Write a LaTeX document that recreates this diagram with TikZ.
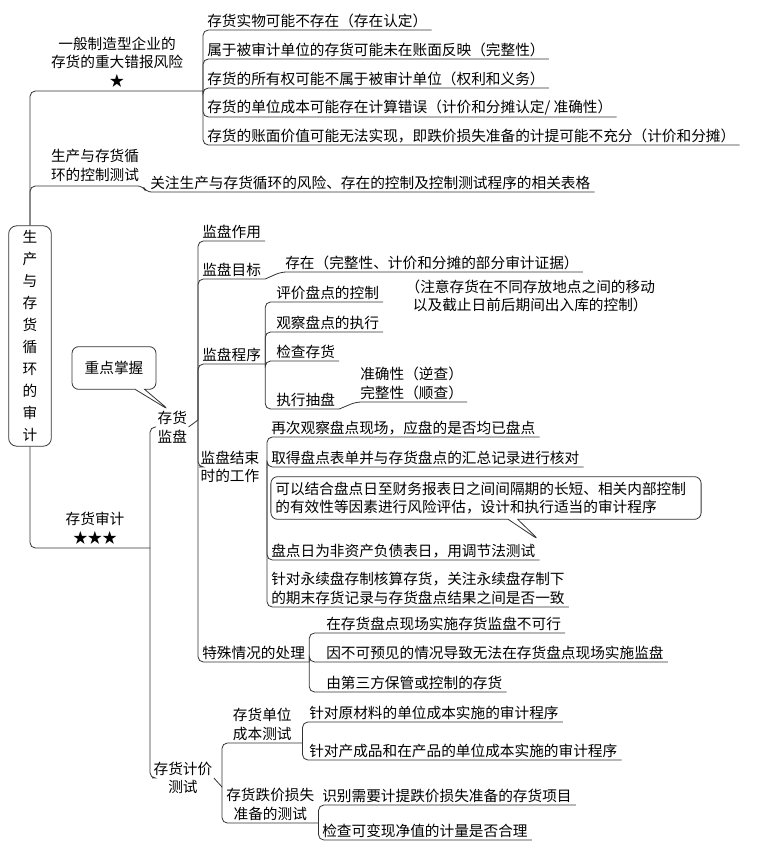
\documentclass[tikz,border=0pt]{standalone}
\usepackage{fontspec}
\setmainfont{Noto Sans CJK SC}
\usetikzlibrary{shapes.callouts}
\tikzset{
  br/.style={draw=black!80,line width=0.6pt,rounded corners=4pt},
  leaf/.style={anchor=south west,inner xsep=3pt,inner ysep=1.5pt,align=left,
    font=\fontsize{11}{14}\selectfont},
  lab/.style={inner sep=1pt,align=center,font=\fontsize{11}{14}\selectfont},
  note/.style={rectangle callout,draw=black!80,line width=0.6pt,rounded corners=5pt,
    fill=white,font=\fontsize{11}{14}\selectfont,align=left}
}
\begin{document}
\begin{tikzpicture}[x=0.75pt,y=-0.75pt]
  \useasboundingbox (0,0) rectangle (757,855);
  % root
  \node[draw=black!80,line width=0.6pt,rounded corners=6pt,minimum width=32pt,
    minimum height=163pt,align=center,font=\fontsize{11}{16.5}\selectfont]
    (root) at (30,336) {生\\产\\与\\存\\货\\循\\环\\的\\审\\计};

  % major misstatement risks
  \coordinate (r1) at (203,91);
  \node[lab,anchor=south] (l1) at (117,89) {一般制造型企业的\\存货的重大错报风险\\★};
  \node[leaf] (a1) at (203,30) {存货实物可能不存在（存在认定）};
  \node[leaf] (a2) at (203,59) {属于被审计单位的存货可能未在账面反映（完整性）};
  \node[leaf] (a3) at (203,88) {存货的所有权可能不属于被审计单位（权利和义务）};
  \node[leaf] (a4) at (203,117) {存货的单位成本可能存在计算错误（计价和分摊认定/ 准确性）};
  \node[leaf] (a5) at (203,145) {存货的账面价值可能无法实现，即跌价损失准备的计提可能不充分（计价和分摊）};
  \draw[br] (root.north) |- (r1);
  \foreach \n in {a1,a2,a3,a4,a5}
    \draw[br] (r1) |- (\n.south east);

  % control test
  \coordinate (r2) at (143,186);
  \node[lab,anchor=south] (l2) at (95,183) {生产与存货循\\环的控制测试};
  \node[leaf] (c2) at (146,192) {关注生产与存货循环的风险、存在的控制及控制测试程序的相关表格};
  \draw[br] (root.north) |- (r2) -- (c2.south west) -- (c2.south east);

  % inventory audit
  \coordinate (r3) at (150,548);
  \node[lab,anchor=south] (l3) at (95,546) {存货审计\\★★★};
  \node[lab,anchor=west] (jp) at (156,427) {存货\\监盘};
  \node[lab,anchor=west] (jj) at (152,778) {存货计价\\测试};
  \draw[br] (root.south) |- (r3);
  \draw[br] (r3) |- (jp.west);
  \draw[br] (r3) |- (jj.west);
  \node[note,callout absolute pointer={(169,410)},minimum width=63pt,minimum height=32pt]
    (kp) at (114,368) {重点掌握};

  % stocktake observation
  \coordinate (g3) at (198,420);
  \draw[br] (jp.east) -- (g3);
  \node[leaf] (zy) at (198,241) {监盘作用};
  \node[leaf] (mb) at (198,279) {监盘目标};
  \node[leaf] (cz) at (281,272) {存在（完整性、计价和分摊的部分审计证据）};
  \node[leaf] (cx) at (198,364) {监盘程序};
  \node[lab,anchor=west] (js) at (199,467) {监盘结束\\时的工作};
  \node[leaf] (ts) at (198,662) {特殊情况的处理};
  \foreach \n in {zy,mb,cx,ts}
    \draw[br] (g3) |- (\n.south east);
  \draw[br] (g3) |- (js.west);
  \draw[br] (mb.south east) -- (cz.south west) -- (cz.south east);

  % procedures
  \node[leaf] (pj) at (272,302) {评价盘点的控制};
  \node[lab,anchor=west] (pn) at (404,296) {（注意存货在不同存放地点之间的移动\\以及截止日前后期间出入库的控制）};
  \node[leaf] (gc) at (272,332) {观察盘点的执行};
  \node[leaf] (jc) at (272,361) {检查存货};
  \node[leaf] (zc) at (272,409) {执行抽盘};
  \node[leaf] (zq) at (356,402) {准确性（逆查）\\完整性（顺查）};
  \foreach \n in {pj,gc,jc,zc}
    \draw[br] (cx.south east) |- (\n.south east);
  \draw[br] (zc.south east) -- (zq.south west) -- (zq.south east);

  % end of stocktake
  \coordinate (g4) at (267,467);
  \node[leaf] (z1) at (267,437) {再次观察盘点现场，应盘的是否均已盘点};
  \node[leaf] (z2) at (267,467) {取得盘点表单并与存货盘点的汇总记录进行核对};
  \node[leaf] (z3) at (267,560) {盘点日为非资产负债表日，用调节法测试};
  \node[leaf] (z4) at (267,607) {针对永续盘存制核算存货，关注永续盘存制下\\的期末存货记录与存货盘点结果之间是否一致};
  \foreach \n in {z1,z2,z3,z4}
    \draw[br] (g4) |- (\n.south east);
  \node[note,callout absolute pointer={(539,540)},text width=316pt,minimum height=32pt]
    (zn) at (486,498) {可以结合盘点日至财务报表日之间间隔期的长短、相关内部控制\\的有效性等因素进行风险评估，设计和执行适当的审计程序};

  % special cases
  \node[leaf] (t1) at (322,633) {在存货盘点现场实施存货监盘不可行};
  \node[leaf] (t2) at (322,662) {因不可预见的情况导致无法在存货盘点现场实施监盘};
  \node[leaf] (t3) at (322,692) {由第三方保管或控制的存货};
  \foreach \n in {t1,t2,t3}
    \draw[br] (ts.south east) |- (\n.south east);

  % valuation tests
  \coordinate (g5) at (222,787);
  \draw[br] (jj.east) -- (g5);
  \node[leaf,align=center,inner xsep=8pt] (dw) at (222,743) {存货单位\\成本测试};
  \node[leaf,align=center] (dj) at (222,823) {存货跌价损失\\准备的测试};
  \draw[br] (g5) |- (dw.south east);
  \draw[br] (g5) |- (dj.south east);
  \node[leaf] (w1) at (305,722) {针对原材料的单位成本实施的审计程序};
  \node[leaf] (w2) at (305,760) {针对产成品和在产品的单位成本实施的审计程序};
  \draw[br] (dw.south east) |- (w1.south east);
  \draw[br] (dw.south east) |- (w2.south east);
  \node[leaf] (k1) at (318,805) {识别需要计提跌价损失准备的存货项目};
  \node[leaf] (k2) at (318,840) {检查可变现净值的计量是否合理};
  \draw[br] (dj.south east) |- (k1.south east);
  \draw[br] (dj.south east) |- (k2.south east);
\end{tikzpicture}
\end{document}
